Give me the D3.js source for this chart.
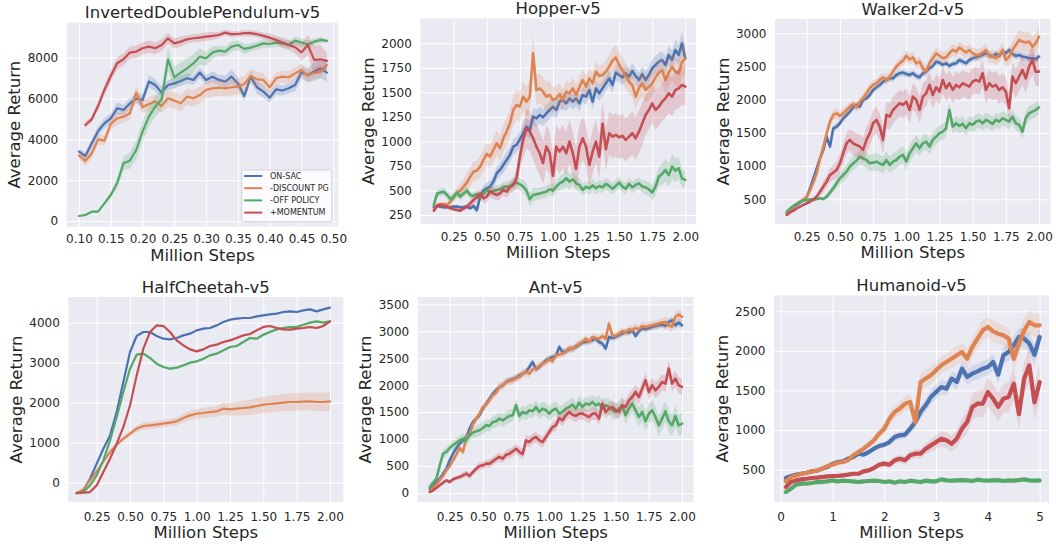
<!DOCTYPE html>
<html>
<head>
<meta charset="utf-8">
<script src="https://cdn.jsdelivr.net/npm/d3@7"></script>
<style>
body { margin: 0; background: #fff; }
svg { display: block; font-family: "DejaVu Sans", sans-serif; }
</style>
</head>
<body>
<svg id="chart"></svg>
<script>
const seriesNames = ['ON-SAC', '-DISCOUNT PG', '-OFF POLICY', '+MOMENTUM'];
const seriesColors = ['#4c72b0', '#dd8452', '#55a868', '#c44e52'];

// ---- InvertedDoublePendulum ----
const idpSteps = [0.10,0.11,0.12,0.13,0.14,0.15,0.16,0.17,0.18,0.19,
  0.20,0.21,0.22,0.23,0.24,0.25,0.26,0.27,0.28,0.29,
  0.30,0.31,0.32,0.33,0.34,0.35,0.36,0.37,0.38,0.39,
  0.40,0.41,0.42,0.43,0.44,0.45,0.46,0.47,0.48,0.49];
const idpOnSac = [3400,3185,3800,4400,4780,5030,5520,5440,5760,5990,
  5930,6830,6660,6290,6660,6740,6860,6990,6910,7270,
  6910,7070,6910,6830,7070,6740,6120,7070,6550,6340,
  6040,6450,6390,6500,6660,7270,7150,7320,7480,7270];
const idpOnSacSd = [150,200,200,250,250,250,300,250,250,250,
  300,300,300,300,250,250,250,250,250,250,
  250,250,250,300,350,300,250,250,300,300,
  250,250,250,250,300,300,350,450,500,450];
const idpDiscount = [3200,2940,3315,4000,3935,4750,5030,5110,5275,6290,
  5570,5730,5850,5630,6010,5895,5765,6090,6010,6170,
  6420,6500,6530,6500,6550,6580,6710,7100,6940,6910,
  6550,6990,7070,7040,7230,7400,7100,7270,7320,7640];
const idpDiscountSd = [150,250,250,250,250,300,300,300,300,350,
  300,350,350,350,400,400,400,400,400,400,
  400,400,400,400,400,400,400,350,350,350,
  300,300,300,300,300,300,300,300,300,250];
const idpOffPolicy = [245,294,457,457,865,1274,1845,2825,2955,3478,
  4376,5111,5600,5960,7920,7040,7270,7480,7725,8050,
  7970,8250,8345,8300,8540,8620,8430,8490,8590,8700,
  8670,8740,8700,8620,8835,8740,8655,8785,8870,8820];
const idpOffPolicySd = [50,50,50,50,100,150,250,350,400,450,
  500,500,500,500,600,500,500,500,450,400,
  350,300,250,250,250,250,250,200,200,200,
  200,200,200,200,200,200,200,150,150,100];
const idpMomentum = [null,4700,4980,5630,6420,7100,7725,7920,8250,8300,
  8460,8540,8460,8620,8950,8700,8785,8900,8950,8980,
  9030,9065,9110,9230,9150,9160,9200,9200,9150,9065,
  8980,8870,8740,8620,8510,8260,8620,7890,7920,7840];
const idpMomentumSd = [null,150,150,200,250,300,300,300,300,300,
  300,300,300,300,250,250,250,200,200,200,
  200,200,150,150,150,150,150,150,150,150,
  200,200,250,250,300,400,500,700,700,400];

// ---- shared 2M-step grid (Hopper, Walker2d, Ant) ----
const steps2M = [0.1,0.125,0.15,0.175,0.2,0.225,0.25,0.275,0.3,0.325,
  0.35,0.375,0.4,0.425,0.45,0.475,0.5,0.525,0.55,0.575,
  0.6,0.625,0.65,0.675,0.7,0.725,0.75,0.775,0.8,0.825,
  0.85,0.875,0.9,0.925,0.95,0.975,1.0,1.025,1.05,1.075,
  1.1,1.125,1.15,1.175,1.2,1.225,1.25,1.275,1.3,1.325,
  1.35,1.375,1.4,1.425,1.45,1.475,1.5,1.525,1.55,1.575,
  1.6,1.625,1.65,1.675,1.7,1.725,1.75,1.775,1.8,1.825,
  1.85,1.875,1.9,1.925,1.95,1.975,2.0];

// ---- Hopper ----
const hopperOnSac = [328,342,335,328,328,328,335,335,328,328,
  335,318,342,300,440,500,522,539,590,675,
  709,760,811,862,947,964,1021,1083,1150,1116,
  1252,1235,1269,1246,1286,1320,1354,1320,1405,1422,
  1388,1439,1405,1439,1388,1473,1456,1524,1405,1541,
  1490,1541,1592,1643,1575,1701,1677,1653,1694,1660,
  1718,1667,1626,1687,1626,1677,1745,1779,1813,1830,
  1779,1881,1830,1932,1881,2000,1847];
const hopperOnSacSd = [20,20,20,20,20,20,20,20,20,20,
  20,20,30,40,50,50,60,60,60,70,
  70,80,80,80,80,80,80,90,90,90,
  90,90,90,90,90,90,90,90,90,90,
  80,80,80,80,80,80,80,80,80,80,
  80,80,80,80,80,80,80,80,80,80,
  80,80,80,80,90,90,90,90,90,90,
  90,100,100,110,110,120,120];
const hopperDiscount = [301,352,362,362,352,386,430,478,498,539,
  580,641,692,702,743,811,872,845,913,981,
  930,1032,1100,1184,1320,1371,1354,1456,1405,1456,
  1898,1524,1541,1507,1456,1473,1422,1439,1483,1422,
  1507,1490,1541,1473,1551,1626,1558,1643,1592,1711,
  1667,1677,1711,1762,1823,1857,1779,1728,1667,1609,
  1575,1456,1541,1592,1524,1558,1592,1653,1701,1728,
  1626,1701,1762,1711,1694,1813,1847];
const hopperDiscountSd = [20,20,20,20,30,40,50,60,70,80,
  90,100,100,100,110,110,110,120,120,130,
  130,140,140,140,150,150,150,150,150,160,
  200,160,150,150,150,140,130,120,110,110,
  110,110,110,110,110,110,110,110,110,110,
  110,110,120,120,130,130,130,130,130,130,
  130,130,130,130,130,130,130,130,130,130,
  140,140,140,140,150,150,150];
const hopperOffPolicy = [352,470,480,488,454,413,437,478,437,470,
  498,454,444,464,437,470,505,488,495,505,
  512,532,539,539,573,580,563,539,498,410,
  454,461,470,478,488,512,498,539,573,590,
  624,590,614,573,556,505,539,522,552,522,
  546,532,566,546,518,546,580,539,518,566,
  532,556,573,539,532,512,478,539,641,668,
  709,658,743,702,726,624,607];
const hopperOffPolicySd = [30,40,40,40,40,40,40,40,40,40,
  40,40,40,40,40,40,50,50,50,50,
  50,50,60,60,60,60,60,70,70,70,
  70,60,60,60,60,60,60,60,70,80,
  80,80,70,70,70,60,60,60,60,60,
  60,60,60,60,60,60,60,60,60,60,
  60,60,60,60,70,70,80,90,100,110,
  120,120,120,120,110,100,80];
const hopperMomentum = [294,342,352,342,335,318,308,301,294,318,
  335,369,403,430,470,420,437,488,470,454,
  470,505,488,532,556,624,845,1015,1133,1099,
  1032,947,879,780,947,879,650,947,896,947,
  879,998,879,720,947,1032,947,760,896,998,
  845,1180,920,1083,1049,1066,1042,1056,1015,1049,
  1083,1032,1099,1184,1269,1320,1388,1320,1354,1405,
  1439,1490,1456,1524,1541,1575,1558];
const hopperMomentumSd = [20,20,20,20,20,20,20,20,20,30,
  30,40,40,50,50,50,60,60,60,60,
  60,60,60,60,70,100,140,180,200,200,
  220,220,220,220,220,220,220,220,220,220,
  220,220,220,220,220,220,220,220,220,220,
  220,220,220,220,220,220,220,220,220,220,
  220,220,220,220,200,200,200,200,200,200,
  200,200,200,200,200,200,200];

// ---- Walker2d ----
const walkerOnSac = [289,339,380,415,450,490,530,666,816,967,
  1117,1243,1444,1293,1569,1594,1645,1720,1770,1820,
  1886,1921,1896,1996,2021,2071,2147,2187,2222,2272,
  2297,2322,2322,2372,2398,2408,2388,2372,2398,2357,
  2337,2398,2423,2473,2508,2573,2558,2523,2548,2508,
  2538,2548,2598,2573,2548,2598,2623,2638,2659,2674,
  2699,2674,2649,2689,2659,2724,2699,2749,2689,2659,
  2674,2649,2638,2623,2623,2608,2649];
const walkerOnSacSd = [20,20,20,20,20,20,20,30,30,40,
  40,50,60,60,50,50,50,50,50,50,
  50,50,50,50,50,50,50,50,50,50,
  50,50,50,50,50,50,50,50,50,50,
  50,50,50,50,50,50,50,50,50,50,
  50,50,50,50,50,50,50,50,50,50,
  50,50,50,50,50,50,50,50,50,50,
  60,60,60,60,60,60,60];
const walkerDiscount = [299,339,380,430,465,500,540,631,751,892,
  1102,1293,1494,1670,1770,1795,1755,1795,1845,1896,
  1936,1886,1971,2021,2096,2172,2222,2247,2297,2337,
  2297,2347,2423,2498,2548,2588,2659,2608,2638,2548,
  2573,2473,2423,2548,2623,2699,2659,2623,2638,2699,
  2749,2724,2784,2749,2709,2749,2699,2674,2674,2709,
  2749,2649,2659,2623,2674,2749,2598,2649,2749,2824,
  2900,2875,2860,2875,2799,2850,2950];
const walkerDiscountSd = [20,20,20,20,20,20,30,40,50,60,
  60,70,80,80,80,80,80,80,70,70,
  70,70,70,70,70,70,70,70,70,70,
  70,70,70,80,80,80,80,80,80,80,
  80,90,90,90,90,90,90,90,90,90,
  90,90,90,90,90,90,90,90,90,90,
  100,100,100,100,110,110,120,120,130,140,
  150,150,150,150,150,150,150];
const walkerOffPolicy = [314,364,400,430,460,480,490,500,490,505,
  515,505,540,600,666,741,816,866,917,992,
  1042,1082,1143,1117,1092,1042,1052,1067,1042,1017,
  1092,1017,1067,1092,1143,1168,1067,1193,1268,1343,
  1268,1343,1369,1293,1394,1444,1494,1519,1569,1845,
  1594,1645,1605,1635,1569,1645,1620,1670,1685,1645,
  1695,1670,1635,1695,1670,1720,1695,1670,1745,1645,
  1620,1519,1720,1795,1820,1845,1886];
const walkerOffPolicySd = [20,20,20,20,20,20,20,20,20,20,
  30,30,40,50,60,80,90,100,100,100,
  110,110,110,120,120,120,130,130,130,130,
  130,130,130,130,130,130,130,130,130,130,
  120,120,120,120,120,120,120,120,120,120,
  110,110,110,110,110,110,110,110,110,110,
  110,110,110,110,110,110,110,110,110,110,
  110,110,110,110,110,110,110];
const walkerMomentum = [264,304,329,364,390,415,440,465,500,540,
  615,691,766,866,902,942,1042,1193,1343,1394,
  1343,1318,1293,1243,1394,1494,1645,1695,1594,1394,
  1770,1745,1845,1896,1946,1921,1971,1845,2046,1996,
  1845,2046,2096,2222,2071,2187,2121,2297,2172,2247,
  2147,2222,2187,2247,2222,2197,2272,2297,2272,2398,
  2147,2247,2197,2222,2147,2187,2121,1870,2347,2247,
  2347,2448,2322,2498,2598,2423,2423];
const walkerMomentumSd = [20,20,20,20,20,20,20,30,30,40,
  60,80,90,100,110,120,140,150,160,160,
  180,180,180,190,190,190,200,200,200,200,
  200,200,200,200,200,200,200,200,200,200,
  200,200,200,200,200,200,200,200,200,200,
  200,200,200,200,200,200,200,200,200,200,
  210,210,210,210,210,210,210,210,220,220,
  220,220,220,220,220,220,220];

// ---- HalfCheetah ----
const cheetahSteps = [0.1,0.15,0.2,0.25,0.3,0.35,0.4,0.45,0.5,0.55,
  0.6,0.65,0.7,0.75,0.8,0.85,0.9,0.95,1.0,1.05,
  1.1,1.15,1.2,1.25,1.3,1.35,1.4,1.45,1.5,1.55,
  1.6,1.65,1.7,1.75,1.8,1.85,1.9,1.95,2.0];
const cheetahOnSac = [-258,-192,100,475,850,1183,1767,2517,3267,3667,
  3767,3767,3667,3600,3583,3617,3683,3725,3808,3850,
  3867,3933,4017,4075,4100,4117,4117,4158,4183,4208,
  4225,4267,4283,4267,4308,4333,4283,4333,4375];
const cheetahOnSacSd = [10,10,20,20,20,20,20,20,20,20,
  20,20,20,20,20,20,20,20,20,20,
  20,20,20,20,20,20,20,20,20,20,
  20,20,20,20,20,20,20,20,20];
const cheetahDiscount = [-258,-167,58,283,533,767,950,1100,1225,1350,
  1417,1433,1450,1475,1500,1533,1617,1683,1725,1742,
  1767,1783,1850,1833,1850,1867,1883,1917,1950,1967,
  1983,2000,2017,2017,2025,2033,2017,2017,2033];
const cheetahDiscountSd = [10,20,30,40,50,60,60,60,70,80,
  90,90,90,90,90,100,110,120,120,130,
  130,140,150,160,170,180,190,200,200,210,
  210,210,220,220,220,220,230,230,230];
const cheetahOffPolicy = [-258,-233,-67,183,558,1058,1642,2267,2850,3200,
  3225,3117,2975,2892,2850,2875,2933,3000,3033,3100,
  3183,3225,3308,3392,3417,3517,3617,3600,3700,3767,
  3833,3867,3892,3892,3950,4000,4033,4000,4033];
const cheetahOffPolicySd = [10,10,20,20,20,30,30,30,30,30,
  30,30,30,30,30,30,30,30,30,30,
  30,30,30,30,30,30,30,30,30,30,
  30,30,30,30,30,30,30,30,30];
const cheetahMomentum = [-258,-250,-233,-67,267,600,975,1392,1933,2683,
  3350,3767,3933,3917,3767,3558,3433,3333,3283,3333,
  3417,3450,3517,3558,3617,3683,3717,3808,3892,3917,
  3867,3833,3825,3850,3867,3892,3867,3917,4033];
const cheetahMomentumSd = [10,10,20,20,20,30,30,30,30,30,
  30,30,30,30,30,30,30,30,30,30,
  30,30,30,30,30,30,30,30,30,30,
  30,30,30,30,30,30,30,30,30];

// ---- Ant ----
const antOnSac = [80,142,204,266,359,451,606,730,835,915,
  977,1039,1194,1317,1379,1441,1565,1657,1750,1843,
  1905,1967,1997,2059,2090,2109,2133,2183,2214,2245,
  2338,2430,2294,2338,2399,2461,2492,2523,2542,2709,
  2616,2628,2665,2678,2709,2752,2789,2801,2814,2832,
  2863,2801,2770,2678,2894,2875,2894,2925,2956,2987,
  2974,3018,2912,2999,3049,3036,3061,3080,3098,3111,
  3123,3098,3172,3203,3111,3160,3111];
const antOnSacSd = [20,30,30,40,40,40,50,50,50,50,
  50,50,50,50,50,50,55,55,55,55,
  55,55,55,55,55,55,55,55,55,55,
  60,60,60,60,60,60,60,60,60,60,
  60,60,60,60,60,60,60,60,60,60,
  60,60,60,60,60,60,60,60,60,60,
  60,60,60,60,60,60,60,60,60,60,
  60,70,70,80,80,80,80];
const antDiscount = [31,93,155,235,315,420,501,606,711,835,
  760,1039,1101,1268,1379,1472,1596,1639,1719,1812,
  1861,1967,1997,2059,2071,2090,2133,2152,2214,2245,
  2214,2294,2307,2356,2399,2430,2480,2443,2554,2566,
  2585,2616,2690,2665,2727,2770,2801,2863,2801,2894,
  2875,2863,2912,2863,3142,2925,2912,2956,2999,2974,
  3036,3018,3061,3036,3098,3080,3098,3111,3123,3142,
  3160,3172,3111,3080,3265,3308,3265];
const antDiscountSd = [20,30,30,40,40,50,50,60,60,60,
  70,70,70,70,70,70,70,70,70,70,
  80,80,80,80,80,80,80,80,80,80,
  70,70,70,70,70,70,70,70,70,70,
  70,70,70,70,70,70,70,70,70,70,
  70,70,70,70,70,70,70,70,70,70,
  80,80,80,80,80,80,80,80,80,80,
  90,100,100,100,100,100,100];
const antOffPolicy = [111,192,266,513,730,761,835,884,934,977,
  1008,977,1070,1119,1144,1163,1206,1255,1243,1317,
  1330,1379,1348,1391,1429,1441,1626,1429,1503,1472,
  1534,1515,1596,1503,1565,1534,1472,1534,1565,1472,
  1503,1565,1596,1639,1565,1676,1596,1657,1639,1688,
  1626,1657,1565,1626,1596,1534,1503,1565,1626,1441,
  1565,1657,1534,1410,1503,1330,1472,1534,1410,1255,
  1379,1515,1330,1255,1429,1255,1286];
const antOffPolicySd = [30,40,50,60,80,80,80,80,80,80,
  100,100,100,100,100,110,110,110,110,110,
  120,120,120,120,120,120,120,120,120,120,
  130,130,130,130,130,130,130,130,130,130,
  130,130,130,130,130,130,130,130,130,130,
  150,150,150,150,150,150,150,150,160,160,
  160,170,170,170,180,180,180,190,190,190,
  200,200,200,200,200,200,200];
const antMomentum = [19,49,93,142,192,235,204,254,278,297,
  328,359,315,390,451,501,513,544,544,587,
  637,668,637,711,730,773,822,761,720,977,
  946,1008,1039,977,946,1039,1132,1224,1255,1391,
  1348,1441,1503,1453,1429,1472,1472,1441,1410,1472,
  1472,1379,1657,1503,1565,1596,1534,1503,1626,1596,
  1719,1781,1874,1781,1936,2090,1874,1997,1905,1967,
  2059,2028,2307,2028,2121,1997,1967];
const antMomentumSd = [20,20,20,30,30,30,40,40,40,40,
  60,60,60,60,70,70,70,70,80,80,
  80,80,80,90,90,90,90,100,100,100,
  100,100,100,100,100,100,100,100,100,100,
  110,110,110,110,110,110,110,110,120,120,
  120,120,120,120,120,120,130,130,130,130,
  130,130,140,140,140,140,140,140,150,150,
  150,150,150,150,150,150,150];

// ---- Humanoid ----
const humanoidSteps = [0.1,0.2,0.3,0.4,0.5,0.6,0.7,0.8,0.9,1.0,
  1.1,1.2,1.3,1.4,1.5,1.6,1.7,1.8,1.9,2.0,
  2.1,2.2,2.3,2.4,2.5,2.6,2.7,2.8,2.9,3.0,
  3.1,3.2,3.3,3.4,3.5,3.6,3.7,3.8,3.9,4.0,
  4.1,4.2,4.3,4.4,4.5,4.6,4.7,4.8,4.9,5.0];
const humanoidOnSac = [395,420,437,449,462,479,487,513,534,576,
  597,605,639,660,702,689,723,765,799,816,
  849,913,934,942,1018,1102,1228,1313,1418,1481,
  1544,1523,1650,1607,1776,1671,1713,1742,1776,1797,
  1860,1700,1944,1986,2071,2176,2155,2092,1950,2176];
const humanoidOnSacSd = [20,20,20,20,20,20,20,20,20,25,
  25,25,25,30,30,30,30,30,40,40,
  40,50,50,50,60,70,80,80,90,90,
  90,90,90,100,100,100,100,100,100,100,
  110,110,110,110,120,120,120,130,130,130];
const humanoidDiscount = [353,407,428,449,462,479,492,513,546,563,
  588,597,618,681,723,765,816,871,955,1018,
  1144,1228,1271,1334,1355,1100,1607,1650,1692,1755,
  1818,1860,1902,1944,1986,1902,2050,2155,2260,2302,
  2247,2218,2197,2155,1900,2092,2260,2365,2323,2323];
const humanoidDiscountSd = [20,20,20,20,20,20,20,20,20,25,
  25,25,30,30,30,40,40,50,60,70,
  80,80,90,90,100,100,110,110,110,110,
  110,110,120,120,120,120,120,130,130,130,
  130,130,130,130,140,140,150,150,150,150];
const humanoidOffPolicy = [218,260,311,323,323,332,344,344,353,365,
  353,361,357,353,344,353,357,361,357,344,
  353,336,353,344,361,353,344,361,353,353,
  378,365,361,365,369,365,357,374,365,361,
  365,369,357,365,361,369,378,365,361,365];
const humanoidOffPolicySd = [15,15,15,15,15,15,15,15,15,15,
  20,20,20,20,20,20,20,20,20,20,
  20,20,20,20,20,20,20,20,20,20,
  20,20,20,20,20,20,20,20,20,20,
  20,20,20,20,20,20,20,20,20,20];
const humanoidMomentum = [281,344,365,378,386,395,399,407,416,420,
  420,428,437,449,449,479,492,521,563,576,
  563,618,639,618,681,702,702,765,807,849,
  892,871,828,892,1018,1102,1292,1334,1334,1481,
  1397,1292,1397,1418,1586,1200,1650,1818,1350,1607];
const humanoidMomentumSd = [20,20,20,20,20,20,20,20,20,20,
  20,20,20,20,25,25,30,30,35,40,
  40,45,50,55,60,60,60,70,80,90,
  100,100,100,110,130,150,160,170,170,180,
  180,180,180,190,200,200,200,220,220,220];

// ---- ticks ----
const idpXTicks = [0.10,0.15,0.20,0.25,0.30,0.35,0.40,0.45,0.50];
const idpYTicks = [0,2000,4000,6000,8000];
const twoMillionXTicks = [0.25,0.50,0.75,1.00,1.25,1.50,1.75,2.00];
const hopperYTicks = [250,500,750,1000,1250,1500,1750,2000];
const walkerYTicks = [500,1000,1500,2000,2500,3000];
const cheetahYTicks = [0,1000,2000,3000,4000];
const antYTicks = [0,500,1000,1500,2000,2500,3000,3500];
const humanoidXTicks = [0,1,2,3,4,5];
const humanoidYTicks = [500,1000,1500,2000,2500];

const makeSeries = (values) => values.map((v, i) => ({
    name: seriesNames[i], color: seriesColors[i], mean: v[0], sd: v[1]
}));

// lineWidth is thicker on the noisy runs, where the dense jitter makes the curves read as wide strokes
const panels = [
    { title: 'InvertedDoublePendulum-v5', left: 66.7, right: 338.3, top: 22.7, bottom: 226.7,
      xDomain: [0.0807, 0.5079], yDomain: [-279, 9713], xTicks: idpXTicks, yTicks: idpYTicks,
      xFormat: d3.format('.2f'), steps: idpSteps, tickPad: 8, labelGap: 34, legend: true,
      lineWidth: 2.2, bandOpacity: 0.22,
      series: makeSeries([[idpOnSac, idpOnSacSd], [idpDiscount, idpDiscountSd],
          [idpOffPolicy, idpOffPolicySd], [idpMomentum, idpMomentumSd]]) },
    { title: 'Hopper-v5', left: 420.3, right: 696, top: 18.3, bottom: 224,
      xDomain: [-0.0025, 2.081], yDomain: [158, 2255], xTicks: twoMillionXTicks, yTicks: hopperYTicks,
      xFormat: d3.format('.2f'), steps: steps2M, tickPad: 8, labelGap: 34,
      lineWidth: 2.6, bandOpacity: 0.22,
      series: makeSeries([[hopperOnSac, hopperOnSacSd], [hopperDiscount, hopperDiscountSd],
          [hopperOffPolicy, hopperOffPolicySd], [hopperMomentum, hopperMomentumSd]]) },
    { title: 'Walker2d-v5', left: 775, right: 1050.7, top: 19, bottom: 224,
      xDomain: [0.011, 2.088], yDomain: [128, 3215], xTicks: twoMillionXTicks, yTicks: walkerYTicks,
      xFormat: d3.format('.2f'), steps: steps2M, tickPad: 8, labelGap: 34,
      lineWidth: 2.6, bandOpacity: 0.22,
      series: makeSeries([[walkerOnSac, walkerOnSacSd], [walkerDiscount, walkerDiscountSd],
          [walkerOffPolicy, walkerOffPolicySd], [walkerMomentum, walkerMomentumSd]]) },
    { title: 'HalfCheetah-v5', left: 68.3, right: 343.3, top: 297, bottom: 502,
      xDomain: [0.037, 2.1], yDomain: [-482, 4642], xTicks: twoMillionXTicks, yTicks: cheetahYTicks,
      xFormat: d3.format('.2f'), steps: cheetahSteps, tickPad: 10, labelGap: 36,
      lineWidth: 2.2, bandOpacity: 0.22,
      series: makeSeries([[cheetahOnSac, cheetahOnSacSd], [cheetahDiscount, cheetahDiscountSd],
          [cheetahOffPolicy, cheetahOffPolicySd], [cheetahMomentum, cheetahMomentumSd]]) },
    { title: 'Ant-v5', left: 417.7, right: 693.7, top: 297, bottom: 502,
      xDomain: [0.009, 2.088], yDomain: [-167, 3635], xTicks: twoMillionXTicks, yTicks: antYTicks,
      xFormat: d3.format('.2f'), steps: steps2M, tickPad: 10, labelGap: 36,
      lineWidth: 2.6, bandOpacity: 0.22,
      series: makeSeries([[antOnSac, antOnSacSd], [antDiscount, antDiscountSd],
          [antOffPolicy, antOffPolicySd], [antMomentum, antMomentumSd]]) },
    { title: 'Humanoid-v5', left: 774, right: 1049, top: 295.3, bottom: 502,
      xDomain: [-0.129, 5.18], yDomain: [92, 2702], xTicks: humanoidXTicks, yTicks: humanoidYTicks,
      xFormat: d3.format('d'), steps: humanoidSteps, tickPad: 10, labelGap: 36,
      lineWidth: 4.2, bandOpacity: 0.15,
      series: makeSeries([[humanoidOnSac, humanoidOnSacSd], [humanoidDiscount, humanoidDiscountSd],
          [humanoidOffPolicy, humanoidOffPolicySd], [humanoidMomentum, humanoidMomentumSd]]) }
];

const textColor = '#262626';

const drawPanel = (svg, p, idx) => {
    const w = p.right - p.left;
    const h = p.bottom - p.top;
    const x = d3.scaleLinear().domain(p.xDomain).range([p.left, p.right]);
    const y = d3.scaleLinear().domain(p.yDomain).range([p.bottom, p.top]);

    const g = svg.append('g').attr('class', 'panel');

    g.append('rect')
        .attr('x', p.left).attr('y', p.top)
        .attr('width', w).attr('height', h)
        .attr('fill', '#eaeaf2');

    const xAxis = d3.axisBottom(x)
        .tickValues(p.xTicks)
        .tickFormat(p.xFormat)
        .tickSize(-h)
        .tickPadding(p.tickPad);
    const yAxis = d3.axisLeft(y)
        .tickValues(p.yTicks)
        .tickFormat(d3.format('d'))
        .tickSize(-w)
        .tickPadding(8.5);

    const gx = g.append('g')
        .attr('transform', `translate(0,${p.bottom})`)
        .call(xAxis);
    const gy = g.append('g')
        .attr('transform', `translate(${p.left},0)`)
        .call(yAxis);

    [gx, gy].forEach(ax => {
        ax.attr('font-family', null).attr('font-size', null);
        ax.select('.domain').remove();
        ax.selectAll('.tick line').attr('stroke', '#ffffff').attr('stroke-width', 1);
        ax.selectAll('.tick text').attr('fill', textColor).style('font-size', '12px');
    });

    const clipId = `clip-${idx}`;
    svg.append('clipPath').attr('id', clipId)
        .append('rect')
        .attr('x', p.left).attr('y', p.top)
        .attr('width', w).attr('height', h);

    const plot = g.append('g').attr('clip-path', `url(#${clipId})`);

    p.series.forEach(s => {
        const pts = p.steps.map((step, i) => ({ x: step, v: s.mean[i], sd: s.sd[i] }));

        const band = d3.area()
            .defined(d => d.v != null && d.sd != null)
            .x(d => x(d.x))
            .y0(d => y(d.v - d.sd))
            .y1(d => y(d.v + d.sd));

        const line = d3.line()
            .defined(d => d.v != null)
            .x(d => x(d.x))
            .y(d => y(d.v));

        plot.append('path')
            .attr('d', band(pts))
            .attr('fill', s.color)
            .attr('fill-opacity', p.bandOpacity)
            .attr('stroke', 'none');

        plot.append('path')
            .attr('d', line(pts))
            .attr('fill', 'none')
            .attr('stroke', s.color)
            .attr('stroke-width', p.lineWidth)
            .attr('stroke-linejoin', 'round')
            .attr('stroke-linecap', 'round');
    });

    g.append('text')
        .attr('x', (p.left + p.right) / 2)
        .attr('y', p.top - 4.5)
        .attr('text-anchor', 'middle')
        .attr('fill', textColor)
        .style('font-size', '16.5px')
        .text(p.title);

    g.append('text')
        .attr('x', (p.left + p.right) / 2)
        .attr('y', p.bottom + p.labelGap)
        .attr('text-anchor', 'middle')
        .attr('fill', textColor)
        .style('font-size', '16.5px')
        .text('Million Steps');

    g.append('text')
        .attr('transform', `translate(${p.left - 46.5},${(p.top + p.bottom) / 2}) rotate(-90)`)
        .attr('text-anchor', 'middle')
        .attr('fill', textColor)
        .style('font-size', '16.5px')
        .text('Average Return');

    if (p.legend) {
        const lg = g.append('g').attr('transform', 'translate(241.7,170)');
        lg.append('rect')
            .attr('width', 90).attr('height', 51.7)
            .attr('rx', 2)
            .attr('fill', '#ffffff').attr('fill-opacity', 0.8)
            .attr('stroke', '#cccccc').attr('stroke-width', 0.8);
        const item = lg.selectAll('.item')
            .data(p.series)
            .enter()
            .append('g')
            .attr('class', 'item')
            .attr('transform', (d, i) => `translate(0,${6 + i * 12.2})`);
        item.append('line')
            .attr('x1', 2.5).attr('x2', 20.5)
            .attr('stroke', d => d.color)
            .attr('stroke-width', 2);
        item.append('text')
            .attr('x', 28.3)
            .attr('dy', '0.35em')
            .attr('fill', textColor)
            .style('font-size', '8px')
            .text(d => d.name);
    }
};

const main = () => {
    const svg = d3.select('#chart')
        .attr('width', 1056)
        .attr('height', 544);
    svg.append('rect').attr('width', 1056).attr('height', 544).attr('fill', '#ffffff');
    panels.forEach((p, i) => drawPanel(svg, p, i));
};

main();
</script>
</body>
</html>
